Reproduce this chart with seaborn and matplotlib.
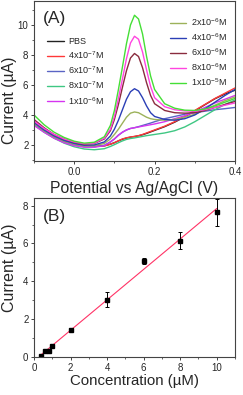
import numpy as np
import pandas as pd
import matplotlib
matplotlib.use('Agg')
import matplotlib.pyplot as plt
from matplotlib.ticker import MultipleLocator
import seaborn as sns

# ---- panel A: DPV curves ----
potential = [-0.1, -0.075, -0.05, -0.025, 0.0, 0.025, 0.05, 0.075, 0.09, 0.1, 0.11, 0.12, 0.13, 0.14,
             0.15, 0.16, 0.17, 0.18, 0.19, 0.2, 0.225, 0.25, 0.275, 0.3, 0.325, 0.35, 0.375, 0.4]

pbs = [3.65, 3.1, 2.65, 2.32, 2.1, 1.97, 1.92, 1.95, 2.05, 2.15, 2.27, 2.38, 2.46, 2.52,
       2.56, 2.61, 2.68, 2.77, 2.87, 2.97, 3.22, 3.52, 3.88, 4.27, 4.68, 5.08, 5.4, 5.65]
c4e7 = [3.55, 3.0, 2.6, 2.3, 2.08, 1.95, 1.9, 1.93, 2.05, 2.15, 2.28, 2.4, 2.48, 2.53,
        2.57, 2.62, 2.7, 2.8, 2.9, 3.0, 3.25, 3.55, 3.9, 4.3, 4.7, 5.1, 5.45, 5.8]
c6e7 = [3.4, 2.9, 2.5, 2.2, 2.0, 1.88, 1.88, 1.98, 2.2, 2.4, 2.65, 2.85, 3.0, 3.1,
        3.15, 3.22, 3.3, 3.38, 3.46, 3.55, 3.75, 3.9, 4.05, 4.15, 4.25, 4.35, 4.42, 4.5]
c8e7 = [3.35, 2.85, 2.45, 2.12, 1.88, 1.73, 1.68, 1.75, 1.9, 2.02, 2.15, 2.27, 2.37, 2.43,
        2.47, 2.52, 2.57, 2.62, 2.66, 2.7, 2.8, 2.95, 3.2, 3.55, 3.95, 4.35, 4.7, 5.0]
c1e6 = [3.3, 2.85, 2.45, 2.15, 1.95, 1.85, 1.85, 1.95, 2.2, 2.4, 2.65, 2.85, 3.0, 3.1,
        3.15, 3.2, 3.25, 3.3, 3.35, 3.4, 3.55, 3.75, 3.95, 4.2, 4.5, 4.8, 5.05, 5.3]
c2e6 = [3.45, 2.95, 2.55, 2.25, 2.05, 1.93, 1.95, 2.1, 2.4, 2.7, 3.05, 3.45, 3.85, 4.12,
        4.2, 4.15, 4.0, 3.85, 3.75, 3.7, 3.65, 3.7, 3.85, 4.05, 4.35, 4.65, 4.95, 5.2]
c4e6 = [3.5, 3.0, 2.6, 2.3, 2.1, 1.98, 2.0, 2.2, 2.6, 3.05, 3.65, 4.35, 5.05, 5.55,
        5.75, 5.6, 5.15, 4.6, 4.15, 3.9, 3.7, 3.65, 3.75, 4.0, 4.4, 4.85, 5.3, 5.7]
c6e6 = [3.7, 3.15, 2.7, 2.4, 2.18, 2.05, 2.1, 2.4, 2.95, 3.7, 4.7, 5.85, 6.95, 7.8,
        8.1, 7.9, 7.15, 6.15, 5.3, 4.75, 4.3, 4.15, 4.12, 4.15, 4.3, 4.5, 4.7, 4.9]
c8e6 = [3.6, 3.1, 2.7, 2.4, 2.2, 2.08, 2.12, 2.45, 3.05, 3.9, 5.1, 6.4, 7.75, 8.8,
        9.25, 9.05, 8.2, 7.0, 5.9, 5.15, 4.55, 4.35, 4.27, 4.25, 4.35, 4.5, 4.65, 4.8]
c1e5 = [4.0, 3.35, 2.85, 2.5, 2.25, 2.12, 2.18, 2.55, 3.3, 4.3, 5.7, 7.2, 8.75, 10.0,
        10.65, 10.4, 9.4, 7.9, 6.6, 5.7, 4.75, 4.45, 4.32, 4.3, 4.4, 4.6, 4.85, 5.1]

labels = ['PBS', '4x10$^{-7}$M', '6x10$^{-7}$M', '8x10$^{-7}$M', '1x10$^{-6}$M',
          '2x10$^{-6}$M', '4x10$^{-6}$M', '6x10$^{-6}$M', '8x10$^{-6}$M', '1x10$^{-5}$M']
series = [pbs, c4e7, c6e7, c8e7, c1e6, c2e6, c4e6, c6e6, c8e6, c1e5]
colors = ['#222222', '#ff3838', '#5a64c4', '#3fc783', '#d634f0',
          '#9cb25a', '#2b3fb6', '#8a2c3e', '#ff45e0', '#45df36']

# ---- panel B: calibration ----
conc = [0.4, 0.6, 0.8, 1, 2, 4, 6, 8, 10]
peak = [0.05, 0.3, 0.33, 0.58, 1.45, 3.02, 5.08, 6.15, 7.65]
err = [0.03, 0.04, 0.04, 0.06, 0.08, 0.4, 0.15, 0.47, 0.72]

sns.set_style('ticks')
plt.rcParams['font.family'] = ['Liberation Sans', 'DejaVu Sans']
plt.rcParams['mathtext.default'] = 'regular'
plt.rcParams['xtick.direction'] = 'out'
plt.rcParams['ytick.direction'] = 'out'

fig = plt.figure(figsize=(2.43, 3.95), dpi=100)
ax1 = fig.add_axes([34 / 243, 1 - 161 / 395, 201 / 243, 160 / 395])
ax2 = fig.add_axes([34 / 243, 1 - 357 / 395, 201 / 243, 159 / 395])

for lab, ys, col in zip(labels, series, colors):
    df = pd.DataFrame({'E': potential, 'I': ys})
    sns.lineplot(data=df, x='E', y='I', ax=ax1, color=col, lw=1.0, label=lab, sort=False)
handles, labs = ax1.get_legend_handles_labels()
ax1.get_legend().remove()

leg_kw = dict(loc='upper left', frameon=False, fontsize=6.5, handlelength=1.8,
              handletextpad=0.5, labelspacing=0.38, borderpad=0, borderaxespad=0)
leg1 = ax1.legend(handles[:5], labs[:5], bbox_to_anchor=(0.066, 0.775), **leg_kw)
ax1.add_artist(leg1)
ax1.legend(handles[5:], labs[5:], bbox_to_anchor=(0.676, 0.905), **leg_kw)

ax1.set_xlim(-0.1, 0.4)
ax1.set_ylim(0.93, 11.6)
ax1.set_xticks([0.0, 0.2, 0.4])
ax1.xaxis.set_minor_locator(MultipleLocator(0.1))
ax1.set_yticks([2, 4, 6, 8, 10])
ax1.yaxis.set_minor_locator(MultipleLocator(1))
ax1.set_xlabel('Potential vs Ag/AgCl (V)', fontsize=11.3, labelpad=3)
ax1.set_ylabel('Current (µA)', fontsize=11.3)
ax1.yaxis.set_label_coords(-0.085, 0.38)
ax1.text(0.045, 0.935, '(A)', transform=ax1.transAxes, fontsize=12.5, va='top')

sns.regplot(x=conc, y=peak, ax=ax2, scatter=False, ci=None, color='#ff3366',
            line_kws={'lw': 0.8})
ax2.errorbar(conc, peak, yerr=err, fmt='s', color='black', ms=2.5, capsize=1.5,
             elinewidth=0.7, capthick=0.7)
ax2.set_xlim(0, 11)
ax2.set_ylim(0, 8.4)
ax2.xaxis.set_major_locator(MultipleLocator(2))
ax2.xaxis.set_minor_locator(MultipleLocator(1))
ax2.yaxis.set_major_locator(MultipleLocator(2))
ax2.yaxis.set_minor_locator(MultipleLocator(1))
ax2.set_xlabel('Concentration (µM)', fontsize=10.8, labelpad=1)
ax2.set_ylabel('Current (µA)', fontsize=11.5)
ax2.yaxis.set_label_coords(-0.085, 0.56)
ax2.text(0.045, 0.93, '(B)', transform=ax2.transAxes, fontsize=12.5, va='top')

for ax in (ax1, ax2):
    for sp in ax.spines.values():
        sp.set_visible(True)
        sp.set_linewidth(0.8)
        sp.set_color('#444444')
    ax.tick_params(which='major', length=2.5, width=0.6, labelsize=7, pad=1.5)
    ax.tick_params(which='minor', length=1.5, width=0.5)
    ax.tick_params(top=False, right=False, which='both')

fig.savefig('out.png', dpi=100)
